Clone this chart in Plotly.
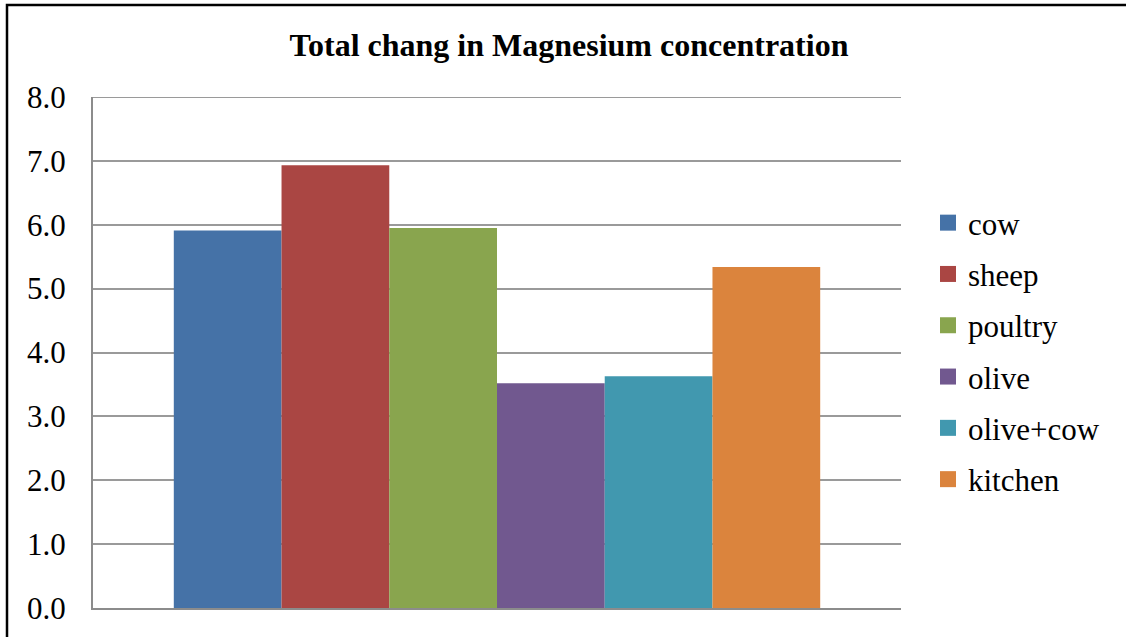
import plotly.graph_objects as go

# Data
series_names = ["cow", "sheep", "poultry", "olive", "olive+cow", "kitchen"]
mg_change = [5.91, 6.93, 5.95, 3.52, 3.63, 5.34]
category = [""]
y_ticks = [0, 1, 2, 3, 4, 5, 6, 7, 8]
y_tick_labels = ["0.0", "1.0", "2.0", "3.0", "4.0", "5.0", "6.0", "7.0", "8.0"]
title_text = "Total chang in Magnesium concentration"

colors = ["#4572A7", "#AA4643", "#89A54E", "#71588F", "#4198AF", "#DB843D"]
grid_color = "#9a9a9a"

W, H = 1126, 637
ML, MR, MT, MB = 93, 225, 97, 29
PW, PH = W - ML - MR, H - MT - MB

fig = go.Figure()

for name, val, col in zip(series_names, mg_change, colors):
    fig.add_trace(go.Bar(x=category, y=[val], name=name, marker=dict(color=col, line=dict(width=0)),
                         showlegend=False))

# legend entries with larger square swatches
for i, (name, col) in enumerate(zip(series_names, colors)):
    fig.add_trace(go.Scatter(x=[None], y=[None], mode="markers", name=name,
                             marker=dict(symbol="square", size=16, color=col),
                             legendgroup=f"g{i}", showlegend=True))

serif = "Liberation Serif, Times New Roman, serif"

fig.update_layout(
    width=W, height=H,
    margin=dict(l=ML, r=MR, t=MT, b=MB, pad=0),
    paper_bgcolor="white", plot_bgcolor="white",
    barmode="group", bargap=0.2, bargroupgap=0,
    title=dict(text=f"<b>{title_text}</b>", x=(569 - ML) / PW, xref="paper", xanchor="center",
               y=1 - 45 / H, yref="container", yanchor="middle",
               font=dict(family=serif, size=32, color="black")),
    font=dict(family=serif, size=31, color="black"),
    legend=dict(x=(928 - ML) / PW, xanchor="left", y=(H - MB - 196) / PH, yanchor="top",
                font=dict(family=serif, size=31, color="black"),
                traceorder="grouped", tracegroupgap=8, itemsizing="trace",
                bgcolor="rgba(0,0,0,0)", borderwidth=0),
    xaxis=dict(showticklabels=False, showgrid=False, showline=True, linecolor="#8c8c8c",
               linewidth=2, zeroline=False, ticks=""),
    yaxis=dict(range=[0, max(y_ticks)], tickvals=y_ticks, ticktext=y_tick_labels, showgrid=True,
               gridcolor=grid_color, gridwidth=2, showline=True, linecolor="#8c8c8c", linewidth=2,
               zeroline=False, ticks="", ticklabelstandoff=19,
               tickfont=dict(family=serif, size=31, color="black")),
    shapes=[
        # top gridline at the upper end of the value axis
        dict(type="line", xref="paper", yref="y", x0=0, x1=1, y0=max(y_ticks), y1=max(y_ticks),
             line=dict(color=grid_color, width=2), layer="below"),
        # chart frame
        dict(type="rect", xref="paper", yref="paper",
             x0=(7 - ML) / PW, x1=(W + 20 - ML) / PW,
             y0=-(MB + 20) / PH, y1=(H - MB - 5) / PH,
             line=dict(color="black", width=2.5), fillcolor="rgba(0,0,0,0)", layer="above"),
    ],
)

fig.write_html("out.html")
